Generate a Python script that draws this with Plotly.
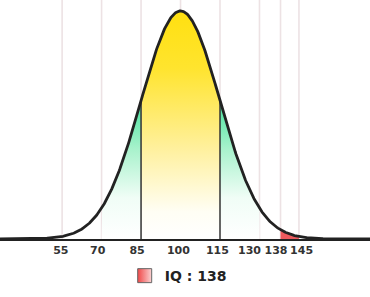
import numpy as np
import plotly.graph_objects as go

# ---- data ----
MEAN = 100
SD = 15
TICKS = [55, 70, 85, 100, 115, 130, 138, 145]
TICK_LABELS = ["55", "70", "85", "100", "115", "130", "138", "145"]
LABEL_NUDGE = [-0.5, -1.5, -1.5, -0.8, -1.0, -3.8, -1.7, 1.0]  # small label offsets to avoid overlap
MIDDLE_BAND = (85, 115)
SIDE_BANDS = [(70, 85), (115, 130)]
SCORE_BAND = (138, 145)
SCORE_NAME = "IQ : 138"
X_RANGE = (31.4, 172.0)


def curve(x):
    return np.exp(-0.5 * ((x - MEAN) / SD) ** 2)


def band(a, b, n=120):
    xs = np.linspace(a, b, n)
    ys = curve(xs)
    return np.concatenate([[a], xs, [b]]), np.concatenate([[0], ys, [0]])


fig = go.Figure()

# side (green) bands
for a, b in SIDE_BANDS:
    bx, by = band(a, b)
    fig.add_trace(go.Scatter(
        x=bx, y=by, mode="lines", line=dict(width=0), fill="toself",
        fillgradient=dict(type="vertical",
                          colorscale=[[0, "#FFFFFF"], [0.3, "#F0FDF6"], [0.65, "#A8F2CC"], [1, "#46E39E"]]),
        showlegend=False, hoverinfo="skip"))

# middle (yellow) band
bx, by = band(*MIDDLE_BAND, n=200)
fig.add_trace(go.Scatter(
    x=bx, y=by, mode="lines", line=dict(width=0), fill="toself",
    fillgradient=dict(type="vertical",
                      colorscale=[[0, "#FFFFFF"], [0.12, "#FFFEF4"], [0.4, "#FFF09C"], [0.75, "#FFE42E"], [1, "#FFE010"]]),
    showlegend=False, hoverinfo="skip"))

# score (red) band
bx, by = band(*SCORE_BAND, n=60)
fig.add_trace(go.Scatter(
    x=bx, y=by, mode="lines", line=dict(width=0), fill="toself",
    fillcolor="#EC5A5E", showlegend=False, hoverinfo="skip"))

# dark boundaries of middle band
for v in MIDDLE_BAND:
    fig.add_trace(go.Scatter(x=[v, v], y=[0, curve(v)], mode="lines",
                             line=dict(color="#333333", width=1.5),
                             showlegend=False, hoverinfo="skip"))

# main curve
xs = np.linspace(X_RANGE[0], X_RANGE[1], 600)
fig.add_trace(go.Scatter(x=xs, y=curve(xs), mode="lines",
                         line=dict(color="#222222", width=2.8),
                         showlegend=False, hoverinfo="skip"))

# legend entry
fig.add_trace(go.Scatter(x=[None], y=[None], mode="markers", name=f"<b>{SCORE_NAME}</b>",
                         marker=dict(symbol="square", size=14, color="#F04848",
                                     gradient=dict(type="horizontal", color="#FAD2D2"),
                                     line=dict(color="#666666", width=1))))

# vertical grid lines
for t in TICKS:
    fig.add_shape(type="line", x0=t, x1=t, y0=0, y1=1, xref="x", yref="paper",
                  line=dict(color="#EDE2E4", width=1.6), layer="below")

fig.update_layout(
    width=370, height=297,
    margin=dict(l=0, r=0, t=0, b=58),
    paper_bgcolor="white", plot_bgcolor="white",
    font=dict(family="DejaVu Sans", color="#333333"),
    xaxis=dict(range=list(X_RANGE), showgrid=False, zeroline=False,
               showline=True, linecolor="#222222", linewidth=2,
               tickmode="array",
               tickvals=[t + d for t, d in zip(TICKS, LABEL_NUDGE)],
               ticktext=[f"<b>{s}</b>" for s in TICK_LABELS],
               ticks="", tickangle=0, tickfont=dict(size=11, color="#333333")),
    yaxis=dict(range=[0, 1.048], visible=False),
    showlegend=True,
    legend=dict(orientation="h", x=0.337, xanchor="left", y=-0.155, yanchor="middle",
                font=dict(size=14, color="#222222", family="DejaVu Sans"),
                bgcolor="rgba(0,0,0,0)"),
)

fig.write_html("out.html")
